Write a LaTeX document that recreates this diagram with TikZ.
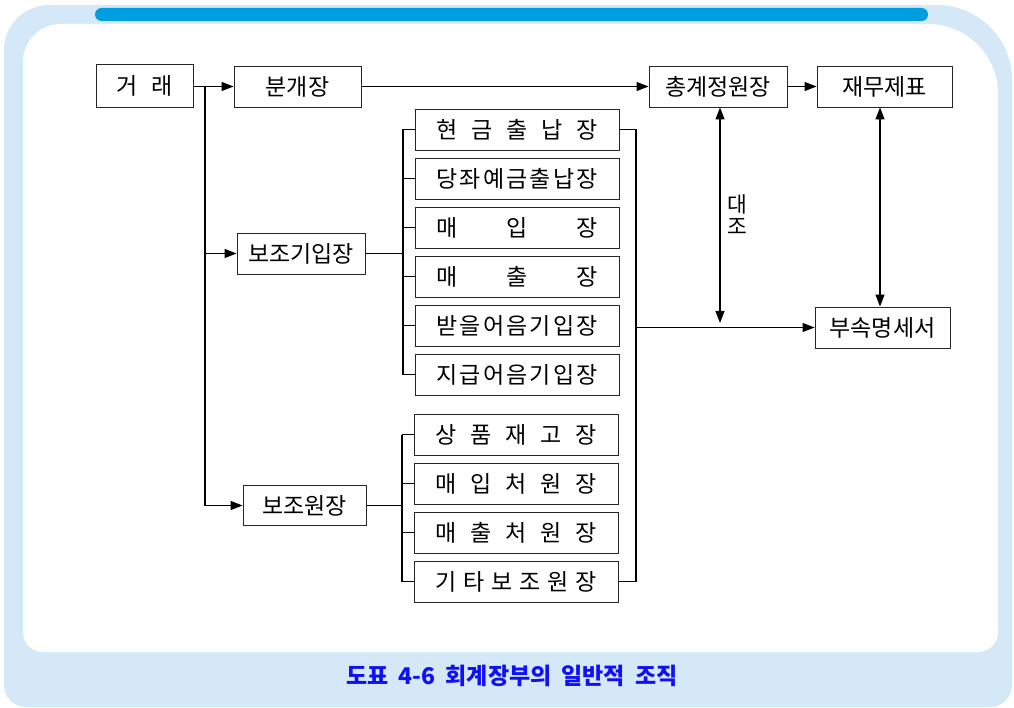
\documentclass[tikz,border=0pt]{standalone}
\usepackage{fontspec}
\newfontfamily\kr{Noto Sans CJK KR}
\usetikzlibrary{arrows.meta,calc}
\definecolor{frameblue}{HTML}{D5E8F7}
\definecolor{barblue}{HTML}{009EE0}
\definecolor{capblue}{HTML}{1010F5}
\newcommand\spreadtext[1]{\makebox[161pt][s]{#1}}
\begin{document}
\begin{tikzpicture}[x=1pt,y=-1pt,
  box/.style={draw=black!85, line width=0.9pt, inner sep=0pt, minimum height=41pt,
    font=\kr\fontsize{23}{26}\selectfont},
  conn/.style={line width=1.1pt, draw=black},
  arr/.style={conn, -{Triangle[length=12pt,width=9pt]}},
  darr/.style={conn, {Triangle[length=12pt,width=9pt]}-{Triangle[length=12pt,width=9pt]}}]
\useasboundingbox (0,0) rectangle (1014,708);
% frame
\fill[frameblue] (4,350) [rounded corners=45pt] -- (4,5) -- (500,5) [rounded corners=75pt] -- (1012,5) -- (1012,400) [rounded corners=22pt] -- (1012,707) -- (4,707) -- cycle;
\fill[white] (23,350) [rounded corners=38pt] -- (23,24) -- (500,24) [rounded corners=70pt] -- (998,24) -- (998,400) [rounded corners=20pt] -- (998,652) -- (23,652) -- cycle;
\fill[barblue, rounded corners=6.5pt] (95,8) rectangle (928,21);
% main nodes
\node[box, minimum width=97pt, minimum height=43pt] (georae) at (144.5,86) {거\hspace{14pt}래};
\node[box, minimum width=127pt] (bungae) at (297.5,86.5) {분개장};
\node[box, minimum width=138pt] (chong) at (718,86.5) {총계정원장};
\node[box, minimum width=135pt] (jaemu) at (884.5,86.5) {재무제표};
\node[box, minimum width=135pt] (busok) at (882.5,327.5) {부속명세서};
\node[box, minimum width=128pt] (bogi) at (301,253.5) {보조기입장};
\node[box, minimum width=123pt, minimum height=40pt] (bowon) at (304.5,505.5) {보조원장};
% upper group
\node[box, minimum width=204pt] (u1) at (517,129.5) {\spreadtext{현\hfill 금\hfill 출\hfill 납\hfill 장}};
\node[box, minimum width=204pt] (u2) at (517,178.5) {\spreadtext{당\hfill 좌\hfill 예\hfill 금\hfill 출\hfill 납\hfill 장}};
\node[box, minimum width=204pt] (u3) at (517,227.5) {\spreadtext{매\hfill 입\hfill 장}};
\node[box, minimum width=204pt] (u4) at (517,276.5) {\spreadtext{매\hfill 출\hfill 장}};
\node[box, minimum width=204pt] (u5) at (517,325.5) {\spreadtext{받\hfill 을\hfill 어\hfill 음\hfill 기\hfill 입\hfill 장}};
\node[box, minimum width=204pt] (u6) at (517,374.5) {\spreadtext{지\hfill 급\hfill 어\hfill 음\hfill 기\hfill 입\hfill 장}};
% lower group
\node[box, minimum width=204pt] (l1) at (516,434.5) {\spreadtext{상\hfill 품\hfill 재\hfill 고\hfill 장}};
\node[box, minimum width=204pt] (l2) at (516,483.5) {\spreadtext{매\hfill 입\hfill 처\hfill 원\hfill 장}};
\node[box, minimum width=204pt] (l3) at (516,532.5) {\spreadtext{매\hfill 출\hfill 처\hfill 원\hfill 장}};
\node[box, minimum width=204pt] (l4) at (516,581.5) {\spreadtext{기\hfill 타\hfill 보\hfill 조\hfill 원\hfill 장}};
% coordinates
\coordinate (trunk) at (205,86.5);
\coordinate (bx) at (403,0);
\coordinate (lx) at (402,0);
\coordinate (rx) at (636,0);
\coordinate (dx) at (720,323);
\coordinate (jx) at (880,0);
% connectors
\draw[arr] (georae.east |- trunk) -- (bungae.west);
\draw[arr] (trunk) |- (bowon.west);
\draw[arr] (trunk |- bogi.west) -- (bogi.west);
\draw[arr] (bungae.east) -- (chong.west);
\draw[arr] (chong.east) -- (jaemu.west);
\draw[conn] (bogi.east) -- (bogi.east -| bx);
\draw[conn] (u1.west -| bx) -- (u6.west -| bx);
\foreach \i in {1,...,6} { \draw[conn] (u\i.west -| bx) -- (u\i.west); }
\draw[conn] (bowon.east) -- (bowon.east -| lx);
\draw[conn] (l1.west -| lx) -- (l4.west -| lx);
\foreach \i in {1,...,4} { \draw[conn] (l\i.west -| lx) -- (l\i.west); }
\draw[conn] (u1.east) -| (rx |- l4.east) -- (l4.east);
\draw[arr] (rx |- busok.west) -- (busok.west);
\draw[darr] (chong.south -| dx) -- (dx);
\draw[darr] (jaemu.south -| jx) -- (busok.north -| jx);
\node[font=\kr\fontsize{21.5}{22}\selectfont, align=center, inner sep=0pt] (daejo) at (737,215) {대\\조};
% caption
\node[font=\kr\bfseries\fontsize{23}{26}\selectfont, text=capblue, inner sep=0pt] (cap) at (512,676) {도표\hspace{10pt}4-6\hspace{10pt}회계장부의\hspace{10pt}일반적\hspace{10pt}조직};
\end{tikzpicture}
\end{document}
